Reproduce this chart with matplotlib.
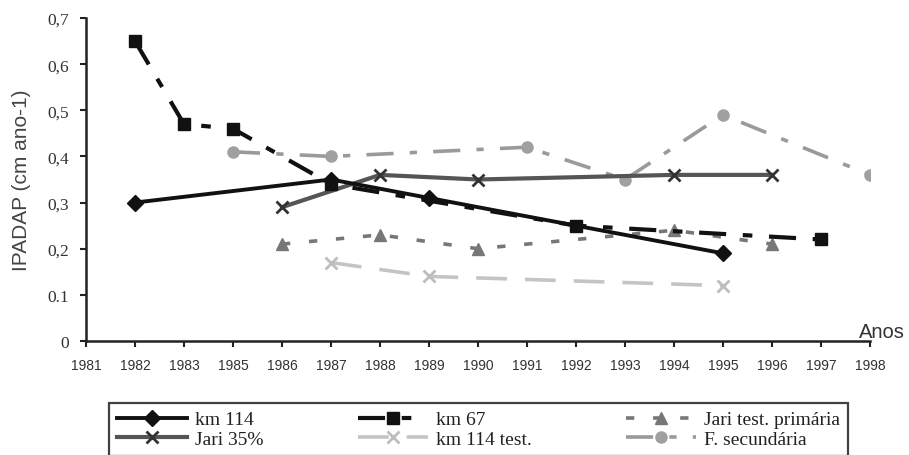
import matplotlib
matplotlib.use("Agg")
import matplotlib.pyplot as plt

years = ['1981', '1982', '1983', '1985', '1986', '1987', '1988', '1989', '1990',
         '1991', '1992', '1993', '1994', '1995', '1996', '1997', '1998']
ytick_vals = [0, 0.1, 0.2, 0.3, 0.4, 0.5, 0.6, 0.7]
ytick_labels = ['0', '0.1', '0,2', '0,3', '0,4', '0,5', '0,6', '0,7']

km114_years = ['1982', '1987', '1989', '1995']
km114_vals = [0.30, 0.35, 0.31, 0.19]

km67_years = ['1982', '1983', '1985', '1987', '1992', '1997']
km67_vals = [0.65, 0.47, 0.46, 0.34, 0.25, 0.22]

jaritest_years = ['1986', '1988', '1990', '1994', '1996']
jaritest_vals = [0.21, 0.23, 0.20, 0.24, 0.21]

jari35_years = ['1986', '1988', '1990', '1994', '1996']
jari35_vals = [0.29, 0.36, 0.35, 0.36, 0.36]

km114test_years = ['1987', '1989', '1995']
km114test_vals = [0.17, 0.14, 0.12]

fsec_years = ['1985', '1987', '1991', '1993', '1995', '1998']
fsec_vals = [0.41, 0.40, 0.42, 0.35, 0.49, 0.36]

pos = {y: i for i, y in enumerate(years)}

fig = plt.figure(figsize=(9.09, 4.56), dpi=100)
ax = fig.add_axes([86/909, 1-342/456, (870-86)/909, (342-19)/456])

def xs(ys):
    return [pos[y] for y in ys]

h_fsec, = ax.plot(xs(fsec_years), fsec_vals, color='#9a9a9a', lw=2.6,
                  ls=(0, (7.5, 4.5, 2, 4.5)), marker='o', ms=8,
                  mfc='#a0a0a0', mec='#a0a0a0', label='F. secundária', zorder=2)
h_km114test, = ax.plot(xs(km114test_years), km114test_vals, color='#c4c4c4', lw=2.6,
                       ls=(0, (8.5, 5)), marker='x', ms=8.5, mew=2,
                       mec='#bdbdbd', label='km 114 test.', zorder=2)
h_jaritest, = ax.plot(xs(jaritest_years), jaritest_vals, color='#777777', lw=2.6,
                      ls=(0, (2.3, 5.2)), marker='^', ms=8.5,
                      mfc='#777777', mec='#777777', label='Jari test. primária', zorder=3)
h_jari35, = ax.plot(xs(jari35_years), jari35_vals, color='#555555', lw=3,
                    marker='x', ms=8.5, mew=2, mec='#333333',
                    label='Jari 35%', zorder=4)
h_km67, = ax.plot(xs(km67_years), km67_vals, color='#111111', lw=3,
                  ls=(0, (6.5, 4, 2.3, 4)), marker='s', ms=9,
                  mfc='#111111', mec='#111111', label='km 67', zorder=5)
h_km114, = ax.plot(xs(km114_years), km114_vals, color='#111111', lw=2.8,
                   marker='D', ms=8.5, mfc='#111111', mec='#111111',
                   label='km 114', zorder=6)

ax.set_xlim(0, len(years) - 1)
ax.set_ylim(0, 0.7)
ax.set_xticks(range(len(years)))
ax.set_xticklabels(years, family=['Liberation Sans'], fontsize=10,
                   color='#333333')
ax.set_yticks(ytick_vals)
ax.set_yticklabels(ytick_labels, family=['Liberation Serif'], fontsize=12.5,
                   color='#333333')
ax.tick_params(axis='both', direction='out', length=4, width=1.5, color='#222222')
ax.tick_params(axis='x', pad=8)
ax.tick_params(axis='y', pad=8)
for s in ['top', 'right']:
    ax.spines[s].set_visible(False)
for s in ['left', 'bottom']:
    ax.spines[s].set_linewidth(1.8)
    ax.spines[s].set_color('#222222')

fig.text(22/909, 1-180/456, 'IPADAP (cm ano-1)', rotation=90, ha='center',
         va='center', fontsize=15, color='#444444', family='Liberation Sans')
fig.text(905/909, 1-332/456, 'Anos', ha='right', va='center', fontsize=14.5,
         color='#333333', family='Liberation Sans')

handles = [h_km114, h_jari35, h_km67, h_km114test, h_jaritest, h_fsec]
leg = fig.legend(handles=handles, loc='upper left', ncol=3, mode='expand',
                 bbox_to_anchor=(109/909, 0, (848-109)/909, 1-404/456),
                 borderaxespad=0, frameon=True, fancybox=False,
                 prop={'family': 'Liberation Serif', 'size': 14},
                 handlelength=3.6, handletextpad=0.4, labelspacing=0.1,
                 borderpad=0.4, columnspacing=1.0)
leg.get_frame().set_edgecolor('#111111')
leg.get_frame().set_linewidth(1.6)
for t in leg.get_texts():
    t.set_color('#222222')

fig.savefig('out.png', dpi=100)
